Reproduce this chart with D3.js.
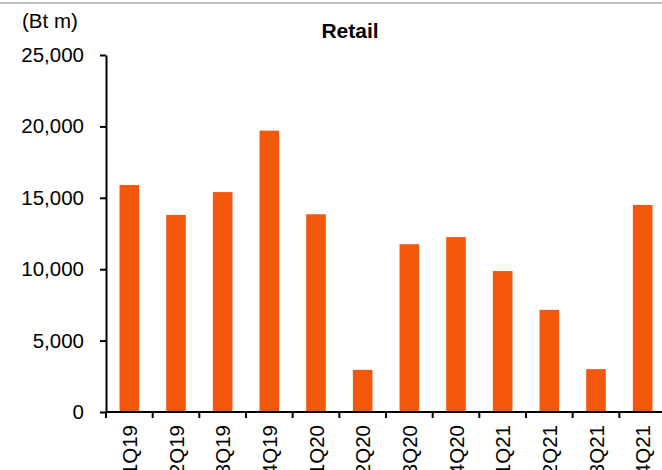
<!DOCTYPE html>
<html>
<head>
<meta charset="utf-8">
<script src="https://cdn.jsdelivr.net/npm/d3@7"></script>
<style>
  html, body { margin: 0; padding: 0; background: #fff; }
  svg { display: block; font-family: "Liberation Sans", Arial, sans-serif; }
</style>
</head>
<body>
<svg id="chart" width="662" height="470"></svg>
<script>
// Quarterly retail figures (Bt m)
const quarters = ["1Q19", "2Q19", "3Q19", "4Q19", "1Q20", "2Q20", "3Q20", "4Q20", "1Q21", "2Q21", "3Q21", "4Q21"];
const retailValues = [15900, 13800, 15400, 19700, 13850, 2950, 11750, 12250, 9870, 7150, 3000, 14500];
const yTicks = [0, 5000, 10000, 15000, 20000, 25000];

const svg = d3.select("#chart");
const W = 662, H = 470;
const FONT = 20.5;

// top rule
svg.append("rect").attr("x", 0).attr("y", 2).attr("width", W).attr("height", 2).attr("fill", "#c0c0c0");

const x = d3.scaleBand().domain(quarters).range([106, 666]).paddingInner(0.58).paddingOuter(0.29);
const y = d3.scaleLinear().domain([0, 25000]).range([412, 55]);

// bars
svg.append("g").selectAll("rect").data(quarters).join("rect")
  .attr("x", d => x(d))
  .attr("width", x.bandwidth())
  .attr("y", (d, i) => y(retailValues[i]))
  .attr("height", (d, i) => y(0) - y(retailValues[i]))
  .attr("fill", "#f4580d");

// y axis
const yAxis = svg.append("g").attr("transform", "translate(106,0)")
  .call(d3.axisLeft(y).tickValues(yTicks).tickSize(6).tickSizeOuter(0).tickFormat(d3.format(",")));
yAxis.select(".domain").attr("stroke", "#000").attr("stroke-width", 2);
yAxis.selectAll(".tick line").attr("stroke", "#000").attr("stroke-width", 2);
yAxis.selectAll(".tick text").attr("x", -22).attr("font-size", FONT).attr("fill", "#000")
  .attr("font-family", "Liberation Sans, Arial, sans-serif");

// x axis: ticks on category boundaries
const step = x.step();
const boundaries = d3.range(quarters.length + 1).map(i => 106 + i * step);
const xAxis = svg.append("g");
xAxis.append("line").attr("x1", 106).attr("x2", 666).attr("y1", y(0)).attr("y2", y(0))
  .attr("stroke", "#000").attr("stroke-width", 2);
xAxis.selectAll("line.tk").data(boundaries).join("line").attr("class", "tk")
  .attr("x1", d => d).attr("x2", d => d).attr("y1", y(0)).attr("y2", y(0) + 6)
  .attr("stroke", "#000").attr("stroke-width", 2);
xAxis.selectAll("text").data(quarters).join("text")
  .attr("transform", d => `translate(${x(d) + x.bandwidth() / 2 + 7.5},425) rotate(-90)`)
  .attr("text-anchor", "end")
  .attr("font-size", FONT)
  .attr("fill", "#000")
  .text(d => d);

// unit label and title
svg.append("text").attr("x", 22).attr("y", 28).attr("font-size", FONT).attr("fill", "#000").text("(Bt m)");
svg.append("text").attr("x", 350).attr("y", 38).attr("text-anchor", "middle")
  .attr("font-size", 21).attr("font-weight", "bold").attr("fill", "#000").text("Retail");
</script>
</body>
</html>
